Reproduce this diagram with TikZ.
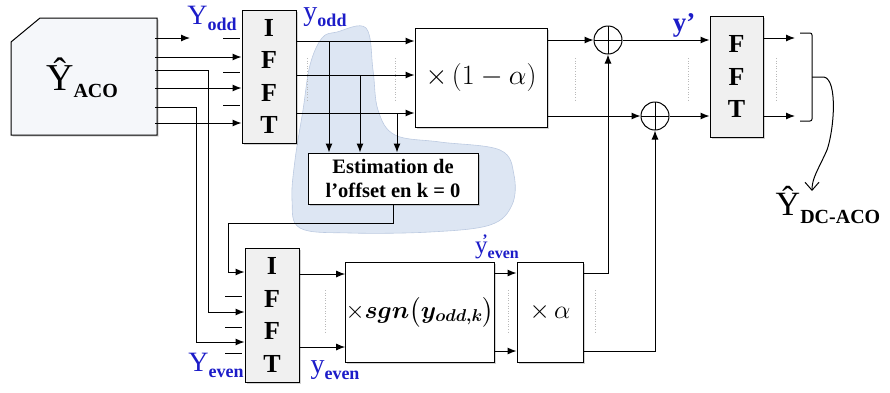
\documentclass[tikz,border=0pt]{standalone}
\RequirePackage{fix-cm}
\usepackage{amsmath}
\usepackage{fontspec}
\setmainfont{Liberation Serif}
\usetikzlibrary{arrows.meta,calc,positioning,shadows}

\definecolor{lblue}{RGB}{28,28,200}
\definecolor{blobfill}{RGB}{221,230,243}
\definecolor{blobline}{RGB}{188,202,225}
\definecolor{acofill}{RGB}{245,247,250}

\newcommand{\sig}[3][28]{{\fontsize{#1}{#1}\selectfont #2}\raisebox{-6pt}{\fontsize{18}{18}\selectfont\bfseries #3}}

\tikzset{
  blk/.style={draw, line width=1pt, fill=white, inner sep=0pt,
    drop shadow={shadow xshift=1.5pt, shadow yshift=-1.5pt, opacity=.35}},
  fftbox/.style={blk, fill=gray!12, align=center,
    font=\fontsize{26}{32.5}\selectfont\bfseries},
  sumnode/.style={circle, draw, line width=1pt, fill=white, minimum size=28pt, inner sep=0pt,
    path picture={\draw[line width=.9pt]
      (path picture bounding box.north) -- (path picture bounding box.south)
      (path picture bounding box.west) -- (path picture bounding box.east);}},
  wire/.style={line width=1pt},
  conn/.style={wire, -{Latex[length=9pt,width=7pt]}},
  tick/.style={line width=1pt},
  gap/.style={gray!55, dotted, line width=.6pt},
  lbl/.style={text=lblue, inner sep=0pt},
}

\begin{document}
\begin{tikzpicture}[x=1pt,y=-1pt]
\useasboundingbox (0,0) rectangle (890,392);

% shaded zone behind the offset estimation
\filldraw[fill=blobfill, draw=blobline, line width=.6pt]
  plot[smooth cycle, tension=.6] coordinates {(337,32) (366,28) (373,70) (378,110)
  (395,135) (440,142) (500,150) (514,175) (512,205) (490,225) (430,232) (350,233)
  (300,228) (292,200) (295,160) (303,110) (310,65) (322,38)};

% input block
\filldraw[line width=1pt, fill=acofill,
  drop shadow={shadow xshift=1.5pt, shadow yshift=-1.5pt, opacity=.35}]
  (11,135) -- (11,42) -- (40,18) -- (157,18) -- (157,135) -- cycle;
\node[minimum width=146pt, minimum height=117pt, inner sep=0pt] (aco) at (82,78)
  {{\fontsize{38}{38}\selectfont \^Y}\raisebox{-7pt}{\fontsize{20}{20}\selectfont\bfseries ACO}};

% blocks
\node[fftbox, minimum width=54pt, minimum height=133pt] (ifftA) at (269,76.5) {I\\F\\F\\T};
\node[blk, minimum width=132pt, minimum height=99pt, font=\fontsize{28}{28}\selectfont]
  (mulA) at (481,77.5) {$\times\,(1-\alpha)$};
\node[blk, minimum width=170pt, minimum height=51pt, align=center,
  font=\fontsize{20.5}{24}\selectfont\bfseries] (est) at (393,178.5) {Estimation de\\l'offset en k = 0};
\node[sumnode] (sum1) at (608,40) {};
\node[sumnode] (sum2) at (655,116) {};
\node[fftbox, minimum width=53pt, minimum height=121pt] (fft) at (736.5,76.5) {F\\F\\T};
\node[fftbox, minimum width=54pt, minimum height=134pt] (ifftB) at (272,315) {I\\F\\F\\T};
\node[blk, minimum width=146pt, minimum height=100pt, font=\fontsize{24.5}{24.5}\selectfont]
  (sgnb) at (420,312) {$\times\boldsymbol{sgn}\bigl(\boldsymbol{y_{odd,k}}\bigr)$};
\node[blk, minimum width=66pt, minimum height=100pt, font=\fontsize{26}{26}\selectfont]
  (mulB) at (550,312) {$\times\,\alpha$};

% rows
\coordinate (a0) at (190,38);
\coordinate (a1) at (0,57);
\coordinate (a2) at (0,70);
\coordinate (a3) at (0,88);
\coordinate (a4) at (0,107);
\coordinate (a5) at (0,123);
\coordinate (o1) at (0,41);
\coordinate (o2) at (0,75);
\coordinate (o3) at (0,113);
\coordinate (t1) at (329,41);
\coordinate (t2) at (360,75);
\coordinate (t3) at (397,113);
\coordinate (v2) at (208,312);
\coordinate (v4) at (196,342);
\coordinate (eb) at (228,223);
\coordinate (e1) at (0,272);
\coordinate (b1) at (0,274);
\coordinate (b2) at (0,347);
\coordinate (m1) at (0,273);
\coordinate (m2) at (0,351);
\coordinate (f1) at (795,38);
\coordinate (f2) at (795,116);
\coordinate (bt) at (812,77);

% inputs
\draw[conn] (aco.east |- a0) -- (a0);
\foreach \r in {a1,a3,a5}
  \draw[conn] (aco.east |- \r) -- (ifftA.west |- \r);
\draw[conn] (aco.east |- a2) -| (v2) -- (ifftB.west |- v2);
\draw[conn] (aco.east |- a4) -| (v4) -- (ifftB.west |- v4);
\foreach \yy in {38,72,105} \draw[tick] (223,\yy) -- (240,\yy);
\foreach \yy in {296,327,353} \draw[tick] (225,\yy) -- (242,\yy);

% odd branch
\foreach \r in {o1,o2,o3}
  \draw[conn] (ifftA.east |- \r) -- (mulA.west |- \r);
\foreach \t in {t1,t2,t3}
  \draw[conn] (\t) -- (\t |- est.north);
\draw[conn] (mulA.east |- sum1) -- (sum1.west);
\draw[conn] (mulA.east |- sum2) -- (sum2.west);
\draw[conn] (sum1.east) -- (fft.west |- sum1);
\draw[conn] (sum2.east) -- (fft.west |- sum2);
\draw[conn] (est.south) |- (eb) |- (ifftB.west |- e1);

% even branch
\foreach \r in {b1,b2}
  \draw[conn] (ifftB.east |- \r) -- (sgnb.west |- \r);
\foreach \r in {m1,m2}
  \draw[conn] (sgnb.east |- \r) -- (mulB.west |- \r);
\draw[conn] (mulB.east |- m1) -| (sum1.south);
\draw[conn] (mulB.east |- m2) -| (sum2.south);

% outputs
\draw[conn] (fft.east |- f1) -- (f1);
\draw[conn] (fft.east |- f2) -- (f2);
\draw[wire, rounded corners=2pt] (800,33) -- (812,33) -- (812,121) -- (800,121);
\draw[wire, -{Straight Barb[length=8pt,width=14pt]}] (bt) -- (824,77)
  .. controls (838,80) and (834,130) .. (827,150)
  .. controls (818,170) and (812,178) .. (812,191);

% dotted gaps
\foreach \xx in {307,395,575,688,776} \draw[gap] (\xx,58) -- (\xx,100);
\foreach \xx in {325,508,595} \draw[gap] (\xx,290) -- (\xx,332);

% labels
\node[lbl] (lYodd) at (212,18) {\sig{Y}{odd}};
\node[lbl] (lyodd) at (325,17) {\sig{y}{odd}};
\node[lbl, font=\bfseries] (lyp) at (684,25) {{\fontsize{27}{27}\selectfont y’}};
\node[lbl] (lYeven) at (216,365) {\sig{Y}{even}};
\node[lbl] (lyeven) at (335,370) {\sig{y}{even}};
\node[lbl] (lypeven) at (497,247)
  {{\fontsize{25}{25}\selectfont y}\raisebox{-5pt}{\fontsize{16}{16}\selectfont\bfseries\llap{\raisebox{13pt}{’}}even}};
\node (lout) at (828,205)
  {{\fontsize{34}{34}\selectfont\^Y}\raisebox{-8pt}{\fontsize{20}{20}\selectfont\bfseries DC-ACO}};
\end{tikzpicture}
\end{document}
